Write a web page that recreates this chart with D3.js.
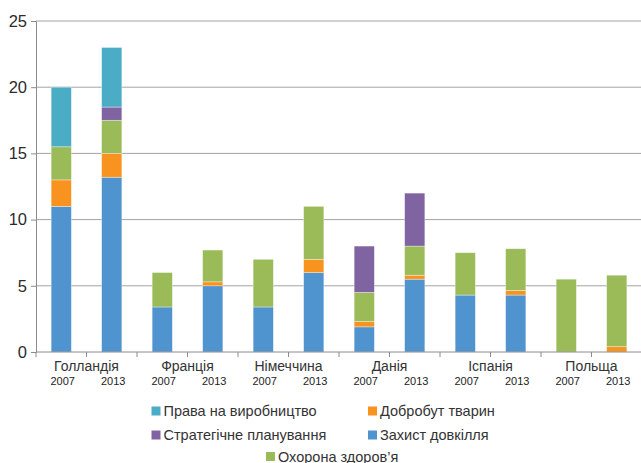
<!DOCTYPE html>
<html>
<head>
<meta charset="utf-8">
<script src="https://cdn.jsdelivr.net/npm/d3@7/dist/d3.min.js"></script>
<style>
  body { margin: 0; background: #fff; }
  svg { display: block; font-family: "Liberation Sans", Arial, sans-serif; }
</style>
</head>
<body>
<svg id="chart" width="641" height="463"></svg>
<script>
// Countries, two survey years each
const countries = ["Голландія", "Франція", "Німеччина", "Данія", "Іспанія", "Польща"];
const years = ["2007", "2013"];

// Series, bottom to top in each stack (one value per country/year column)
const environment = [11, 13.2, 3.4, 5, 3.4, 6, 1.9, 5.5, 4.3, 4.3, 0, 0];      // Захист довкілля
const animalWelfare = [2, 1.8, 0, 0.3, 0, 1, 0.4, 0.3, 0, 0.35, 0, 0.4];         // Добробут тварин
const health = [2.5, 2.5, 2.6, 2.4, 3.6, 4, 2.2, 2.2, 3.2, 3.15, 5.5, 5.4];      // Охорона здоров'я
const planning = [0, 1, 0, 0, 0, 0, 3.5, 4, 0, 0, 0, 0];                         // Стратегічне планування
const productionRights = [4.5, 4.5, 0, 0, 0, 0, 0, 0, 0, 0, 0, 0];               // Права на виробництво

const yTicks = [0, 5, 10, 15, 20, 25];

const seriesDefs = [
  { key: "env",    name: "Захист довкілля",        values: environment,      color: "#4f93cf" },
  { key: "animal", name: "Добробут тварин",        values: animalWelfare,    color: "#f7931e" },
  { key: "health", name: "Охорона здоров’я",       values: health,           color: "#9bbb59" },
  { key: "plan",   name: "Стратегічне планування", values: planning,         color: "#8064a2" },
  { key: "rights", name: "Права на виробництво",   values: productionRights, color: "#4bacc6" }
];

// Table of columns built from the arrays above
const columns = [];
countries.forEach((c, i) => years.forEach((yr, j) => {
  const idx = i * 2 + j;
  const row = { id: c + "-" + yr, country: c, year: yr };
  seriesDefs.forEach(s => { row[s.key] = s.values[idx]; });
  columns.push(row);
}));

const svg = d3.select("#chart");
const plotLeft = 36, plotRight = 642, plotTop = 21, plotBottom = 352;

const x = d3.scaleBand()
  .domain(columns.map(d => d.id))
  .range([plotLeft, plotRight])
  .paddingInner(0.6)
  .paddingOuter(0.3);
const barCenter = id => x(id) + x.bandwidth() / 2;

const y = d3.scaleLinear().domain([0, 25]).range([plotBottom, plotTop]);

// Horizontal gridlines
svg.append("g")
  .selectAll("line")
  .data(yTicks.filter(t => t > 0))
  .join("line")
  .attr("x1", plotLeft).attr("x2", 641)
  .attr("y1", d => y(d)).attr("y2", d => y(d))
  .attr("stroke", "#a3a3a3").attr("stroke-width", 1);

// Stacked bars
const stack = d3.stack().keys(seriesDefs.map(s => s.key));
const stacked = stack(columns);
const colorOf = d3.scaleOrdinal().domain(seriesDefs.map(s => s.key)).range(seriesDefs.map(s => s.color));

svg.append("g")
  .selectAll("g")
  .data(stacked)
  .join("g")
  .attr("fill", d => colorOf(d.key))
  .selectAll("rect")
  .data(d => d.filter(v => v[1] - v[0] > 0))
  .join("rect")
  .attr("x", d => x(d.data.id))
  .attr("width", x.bandwidth())
  .attr("y", d => y(d[1]))
  .attr("height", d => y(d[0]) - y(d[1]))
  .attr("stroke", "#ffffff")
  .attr("stroke-opacity", 0.5)
  .attr("stroke-width", 0.7);

// Y axis
const yAxis = d3.axisLeft(y).tickValues(yTicks).tickSize(5).tickPadding(4).tickFormat(d3.format("d"));
const gy = svg.append("g").attr("transform", `translate(${plotLeft},0)`).call(yAxis);
gy.select(".domain").attr("stroke", "#8c8c8c");
gy.selectAll(".tick line").attr("stroke", "#8c8c8c");
gy.selectAll(".tick text")
  .attr("fill", "#2b2b2b")
  .attr("font-size", 16.5)
  .attr("font-family", "'Liberation Sans', Arial, sans-serif");

// X axis line and ticks between columns
const xg = svg.append("g");
xg.append("line")
  .attr("x1", plotLeft).attr("x2", 641)
  .attr("y1", plotBottom).attr("y2", plotBottom)
  .attr("stroke", "#8c8c8c");
const step = x.step();
xg.selectAll("line.tk")
  .data(d3.range(columns.length + 1))
  .join("line")
  .attr("class", "tk")
  .attr("x1", i => plotLeft + i * step).attr("x2", i => plotLeft + i * step)
  .attr("y1", plotBottom).attr("y2", plotBottom + 5)
  .attr("stroke", "#8c8c8c");

// Year labels under each column
xg.selectAll("text.yr")
  .data(columns)
  .join("text")
  .attr("class", "yr")
  .attr("x", d => barCenter(d.id) + 1.5)
  .attr("y", 385)
  .attr("text-anchor", "middle")
  .attr("font-size", 11)
  .attr("fill", "#222")
  .text(d => d.year);

// Country labels centred under each pair of columns
xg.selectAll("text.ctry")
  .data(countries)
  .join("text")
  .attr("class", "ctry")
  .attr("x", c => (barCenter(c + "-2007") + barCenter(c + "-2013")) / 2)
  .attr("y", 370.5)
  .attr("text-anchor", "middle")
  .attr("font-size", 14)
  .attr("fill", "#333")
  .text(c => c);

// Legend
const legendItems = [
  { key: "rights", col: 0, row: 0 },
  { key: "animal", col: 1, row: 0 },
  { key: "plan",   col: 0, row: 1 },
  { key: "env",    col: 1, row: 1 },
  { key: "health", col: 2, row: 2 }
];
const legendColX = [151.5, 368, 266];
const legendRowY = [411, 435, 456.5];
const byKey = Object.fromEntries(seriesDefs.map(s => [s.key, s]));

const lg = svg.append("g")
  .selectAll("g")
  .data(legendItems)
  .join("g")
  .attr("transform", d => `translate(${legendColX[d.col]},${legendRowY[d.row]})`);
lg.append("rect")
  .attr("y", -4.5)
  .attr("width", 9).attr("height", 9)
  .attr("fill", d => byKey[d.key].color);
lg.append("text")
  .attr("x", 12)
  .attr("y", 5)
  .attr("font-size", 14.5)
  .attr("fill", "#333")
  .text(d => byKey[d.key].name);
</script>
</body>
</html>
